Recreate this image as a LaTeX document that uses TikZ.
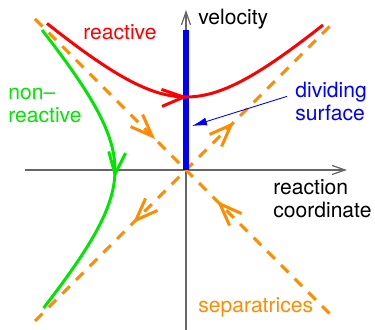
\documentclass[tikz,border=0pt]{standalone}
\usepackage{fontspec}
\setmainfont{TeX Gyre Heros}
\usetikzlibrary{arrows.meta,decorations.markings}
\definecolor{seporange}{RGB}{255,140,0}
\definecolor{reacred}{RGB}{255,0,0}
\definecolor{nonreacgreen}{RGB}{0,230,0}
\definecolor{divblue}{RGB}{0,0,255}
\tikzset{
  lab/.style={font=\fontsize{12}{13.6}\selectfont,inner sep=0pt,align=left,anchor=base west},
  axisline/.style={-{Straight Barb[length=2.6mm,width=1.8mm]},line width=0.7pt,draw=black!60},
  traj/.style={line width=1.7pt},
  sepline/.style={line width=1.7pt,draw=seporange,dash pattern=on 6pt off 5pt},
  midtip/.style={postaction={decorate},decoration={markings,
    mark=at position #1 with {\arrow[solid]{Straight Barb[length=4.4mm,width=3.4mm]}}}},
  pointer/.style={-{Latex[length=3mm,width=1.6mm]},line width=0.5pt,draw=divblue}
}

\begin{document}
\begin{tikzpicture}[x=0.2cm,y=0.2cm]
  \useasboundingbox (-18.6,-16) rectangle (18.9,17);
  % axes
  \draw[axisline] (-16.1,0) -- (16.1,0);
  \draw[axisline] (0,-16) -- (0,16);
  \node[lab] (vel) at (1.2,14.5) {velocity};
  \node[lab] (rc) at (8.7,-4.8) {reaction\\coordinate};
  % separatrices
  \draw[sepline,postaction={decorate},decoration={markings,
    mark=at position 0.403 with {\arrow[solid]{Straight Barb[length=4.4mm,width=3.4mm]}},
    mark=at position 0.611 with {\arrowreversed[solid]{Straight Barb[length=4.4mm,width=3.4mm]}}}]
    (-15.1,15.1) -- (14.7,-14.7);
  \draw[sepline,postaction={decorate},decoration={markings,
    mark=at position 0.329 with {\arrowreversed[solid]{Straight Barb[length=4.4mm,width=3.4mm]}},
    mark=at position 0.668 with {\arrow[solid]{Straight Barb[length=4.4mm,width=3.4mm]}}}]
    (-15.1,-15.1) -- (14.7,14.7);
  \node[lab,text=seporange] (sep) at (1.2,-14.3) {separatrices};
  % dividing surface
  \draw[line width=3.4pt,divblue] (0,0) -- (0,14);
  \node[lab,text=divblue] (divlab) at (10.9,4.9) {dividing\\surface};
  \coordinate (divtip) at (0.6,4.4);
  \draw[pointer] ([xshift=-1.6mm,yshift=-3mm]divlab.north west) -- (divtip);
  % reactive trajectory
  \draw[traj,reacred,midtip=0.51] plot[domain=-13.9:13.7,samples=101]
    (\x,{sqrt(7.3*7.3+0.836*\x*\x)});
  \node[lab,text=reacred] (reac) at (-10.3,13) {reactive};
  % non-reactive trajectory
  \draw[traj,nonreacgreen,midtip=0.53] plot[domain=14:-13.8,samples=101]
    ({-sqrt(7.1*7.1+0.8*\x*\x)},\x);
  \node[lab,text=nonreacgreen] (nonreac) at (-17.8,4.7) {non–\\reactive};
\end{tikzpicture}
\end{document}
